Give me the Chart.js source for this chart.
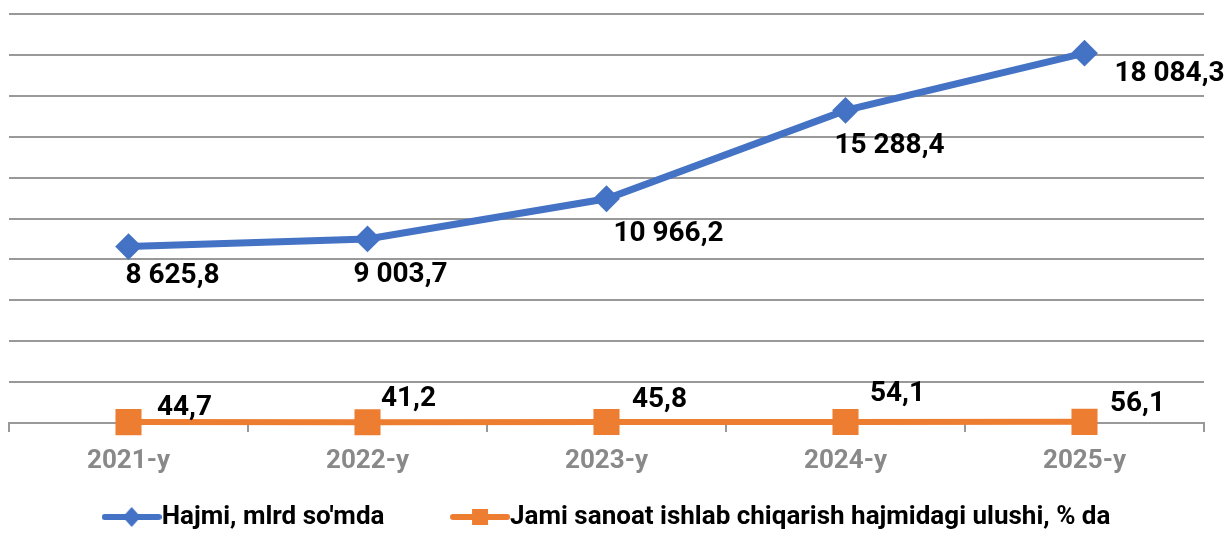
<!DOCTYPE html>
<html>
<head>
<meta charset="utf-8">
<script src="https://cdn.jsdelivr.net/npm/chart.js@4/dist/chart.umd.min.js"></script>
<style>
html, body { margin: 0; padding: 0; background: #fff; }
#wrap { width: 1231px; height: 535px; }
</style>
</head>
<body>
<div id="wrap"><canvas id="chart"></canvas></div>
<script>
const years = ['2021-y', '2022-y', '2023-y', '2024-y', '2025-y'];
const hajmi = [8625.8, 9003.7, 10966.2, 15288.4, 18084.3];
const ulushi = [44.7, 41.2, 45.8, 54.1, 56.1];
const seriesNames = ['Hajmi, mlrd so\'mda', 'Jami sanoat ishlab chiqarish hajmidagi ulushi, % da'];

// where each value label sits relative to its point (px)
const hajmiLabelShift = [[44, 26], [33, 33], [62, 32], [44, 33], [85, 18]];
const ulushiLabelShift = [[56, -17], [41, -26], [53, -25], [52, -31], [53, -21]];

const blue = '#4472C4';
const orange = '#ED7D31';

function fmt(v) {
    const parts = v.toFixed(1).split('.');
    return parts[0].replace(/\B(?=(\d{3})+(?!\d))/g, ' ') + ',' + parts[1];
}

function legendIcon(color, shape) {
    const c = document.createElement('canvas');
    c.width = 60;
    c.height = 22;
    const g = c.getContext('2d');
    g.strokeStyle = color;
    g.lineWidth = 6;
    g.lineCap = 'round';
    g.beginPath();
    g.moveTo(3, 11);
    g.lineTo(57, 11);
    g.stroke();
    g.fillStyle = color;
    g.beginPath();
    if (shape === 'diamond') {
        g.moveTo(30, 1);
        g.lineTo(39, 11);
        g.lineTo(30, 21);
        g.lineTo(21, 11);
        g.closePath();
    } else {
        g.rect(22, 3, 16, 16);
    }
    g.fill();
    return c;
}

const legendIcons = [legendIcon(blue, 'diamond'), legendIcon(orange, 'square')];

const pointLabels = {
    id: 'pointLabels',
    afterLayout(chart) {
        // nudge the legend a bit to the right
        chart.legend.left += 6;
        chart.legend.right += 6;
    },
    afterDatasetsDraw(chart) {
        const c = chart.ctx;
        c.save();
        c.font = 'bold 28px Roboto';
        c.fillStyle = '#000';
        c.textAlign = 'center';
        c.textBaseline = 'alphabetic';
        chart.data.datasets.forEach((ds, i) => {
            chart.getDatasetMeta(i).data.forEach((pt, j) => {
                const s = ds.labelShift[j];
                c.fillText(fmt(ds.data[j]), pt.x + s[0], pt.y + s[1] + 10);
            });
        });
        c.restore();
    }
};

const ctx = document.getElementById('chart');

new Chart(ctx, {
    type: 'line',
    data: {
        labels: years,
        datasets: [{
            label: seriesNames[0],
            data: hajmi,
            labelShift: hajmiLabelShift,
            borderColor: blue,
            backgroundColor: blue,
            borderWidth: 7,
            pointStyle: 'rectRot',
            pointRadius: 12,
            pointBorderWidth: 2,
            tension: 0,
            clip: false
        },
        {
            label: seriesNames[1],
            data: ulushi,
            labelShift: ulushiLabelShift,
            borderColor: orange,
            backgroundColor: orange,
            borderWidth: 6,
            pointStyle: 'rect',
            pointRadius: 17,
            pointBorderWidth: 2,
            tension: 0,
            clip: false
        }]
    },
    options: {
        responsive: true,
        maintainAspectRatio: false,
        animation: false,
        layout: {
            autoPadding: false,
            padding: { left: 9, right: 27, top: 14, bottom: -5 }
        },
        scales: {
            x: {
                offset: true,
                grid: {
                    offset: true,
                    drawOnChartArea: false,
                    drawTicks: true,
                    tickLength: 9,
                    color: '#999',
                    lineWidth: 2
                },
                border: { display: true, color: '#999', width: 2 },
                ticks: {
                    color: '#898989',
                    padding: 13,
                    font: { family: 'Roboto', weight: 'bold', size: 26, lineHeight: 1.23 }
                }
            },
            y: {
                min: 0,
                max: 20000,
                ticks: { stepSize: 2000, display: false, padding: 0 },
                grid: { color: '#999', lineWidth: 2, drawTicks: false, tickLength: 0 },
                border: { display: false }
            }
        },
        plugins: {
            legend: {
                position: 'bottom',
                labels: {
                    usePointStyle: true,
                    pointStyleWidth: 34,
                    padding: 14,
                    color: '#000',
                    font: { family: 'Roboto', weight: 'bold', size: 26 },
                    generateLabels(chart) {
                        const items = Chart.defaults.plugins.legend.labels.generateLabels(chart);
                        items.forEach((it, i) => { it.pointStyle = legendIcons[i]; });
                        items[0].text += '          ';
                        return items;
                    }
                }
            },
            tooltip: { enabled: false }
        }
    },
    plugins: [pointLabels]
});
</script>
</body>
</html>
